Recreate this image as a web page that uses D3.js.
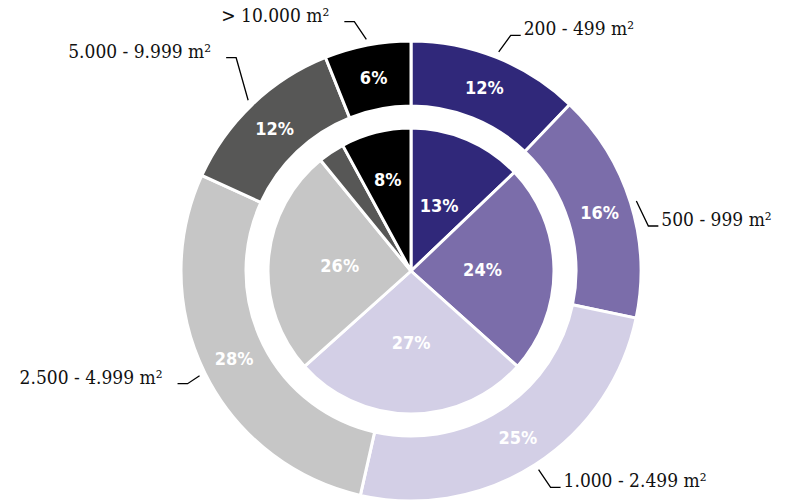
<!DOCTYPE html>
<html>
<head>
<meta charset="utf-8">
<script src="https://cdn.jsdelivr.net/npm/d3@7"></script>
<style>
  html, body { margin: 0; padding: 0; background: #fff; }
  svg { display: block; }
</style>
</head>
<body>
<script>
// ---- data ----
const categories = ["200 - 499 m²", "500 - 999 m²", "1.000 - 2.499 m²", "2.500 - 4.999 m²", "5.000 - 9.999 m²", "> 10.000 m²"];
const outerValues = [12, 16, 25, 28, 12, 6];
const innerValues = [13, 24, 27, 26, 3, 8];
const colors = ["#30287a", "#7b6daa", "#d3cfe6", "#c6c6c6", "#575756", "#000000"];

// ---- layout ----
const W = 785, H = 501;
const cx = 411, cy = 271;
const rOuter = 230, rRingInner = 165, rPie = 143;
const labelNudge = [2, 31, 1, -1, -28, 2];

const svg = d3.select("body").append("svg").attr("width", W).attr("height", H);
const g = svg.append("g").attr("transform", `translate(${cx},${cy})`);

const pie = d3.pie().sort(null).value(d => d);
const outerArcs = pie(outerValues);
const innerArcs = pie(innerValues);

const arcOuter = d3.arc().innerRadius(rRingInner).outerRadius(rOuter);
const arcInner = d3.arc().innerRadius(0).outerRadius(rPie);

g.selectAll("path.outer").data(outerArcs).join("path")
  .attr("class", "outer")
  .attr("d", arcOuter)
  .attr("fill", (d, i) => colors[i])
  .attr("stroke", "#fff").attr("stroke-width", 3).attr("stroke-linejoin", "miter");

g.selectAll("path.inner").data(innerArcs).join("path")
  .attr("class", "inner")
  .attr("d", arcInner)
  .attr("fill", (d, i) => colors[i])
  .attr("stroke", "#fff").attr("stroke-width", 3).attr("stroke-linejoin", "round");

const pctFont = "'DejaVu Sans Condensed', 'DejaVu Sans', sans-serif";

g.selectAll("text.outerPct").data(outerArcs).join("text")
  .attr("class", "outerPct")
  .attr("transform", d => `translate(${arcOuter.centroid(d)})`)
  .attr("text-anchor", "middle").attr("dy", "0.36em")
  .style("font-family", pctFont).style("font-stretch", "condensed")
  .style("font-weight", "bold").style("font-size", "18px")
  .attr("fill", "#fff")
  .text(d => d.data + "%");

const arcInnerLabelSmall = d3.arc().innerRadius(0).outerRadius(rPie * 1.32);
g.selectAll("text.innerPct").data(innerArcs.filter(d => d.data >= 5)).join("text")
  .attr("class", "innerPct")
  .attr("transform", d => {
    const frac = (d.endAngle - d.startAngle) / (2 * Math.PI);
    const c = frac < 0.1 ? arcInnerLabelSmall.centroid(d) : arcInner.centroid(d);
    return `translate(${c})`;
  })
  .attr("text-anchor", "middle").attr("dy", "0.36em")
  .style("font-family", pctFont).style("font-stretch", "condensed")
  .style("font-weight", "bold").style("font-size", "18px")
  .attr("fill", "#fff")
  .text(d => d.data + "%");

// ---- leader lines and category labels ----
const catFont = "'DejaVu Serif Condensed', 'DejaVu Serif', serif";
outerArcs.forEach((d, i) => {
  const mid = (d.startAngle + d.endAngle) / 2;
  const side = Math.sin(mid) >= 0 ? 1 : -1;
  const r0 = rOuter + 6, rl = 256;
  const x0 = r0 * Math.sin(mid), y0 = -r0 * Math.cos(mid);
  const yl = -rl * Math.cos(mid) + labelNudge[i];
  const x1 = x0 + side * 12;
  const x2 = x1 + side * 10;
  g.append("path")
    .attr("d", `M${x0},${y0}L${x1},${yl}L${x2},${yl}`)
    .attr("fill", "none").attr("stroke", "#000").attr("stroke-width", 1.3);
  g.append("text")
    .attr("x", x2 + side * (side > 0 ? 3 : 15))
    .attr("y", yl)
    .attr("text-anchor", side > 0 ? "start" : "end")
    .style("font-family", catFont).style("font-stretch", "condensed")
    .style("font-size", "19px")
    .attr("fill", "#111")
    .text(categories[i]);
});
</script>
</body>
</html>
